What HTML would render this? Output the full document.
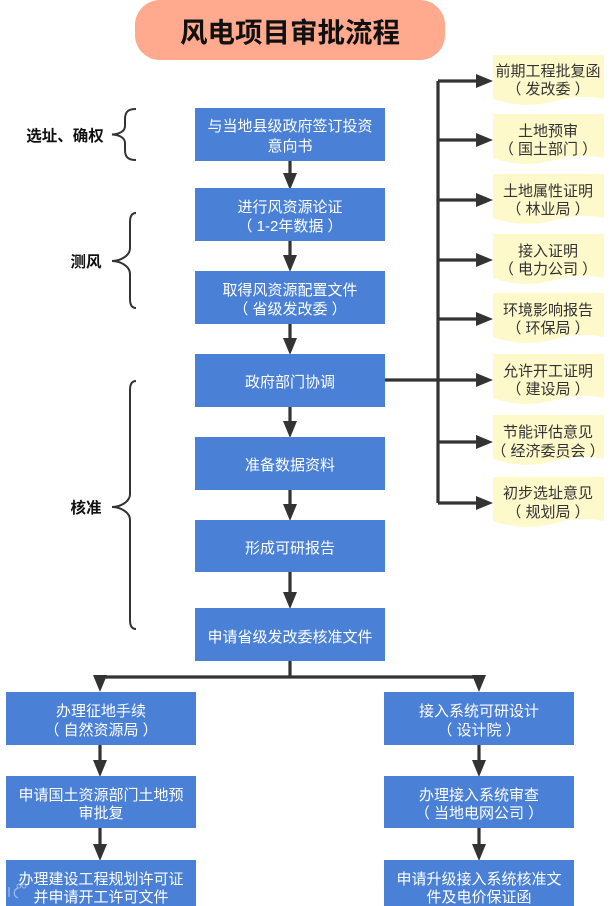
<!DOCTYPE html>
<html lang="zh">
<head>
<meta charset="utf-8">
<title>风电项目审批流程</title>
<style>
html,body{margin:0;padding:0;background:#fff;width:611px;height:906px;overflow:hidden}
svg{display:block;filter:blur(.3px)}
text{font-family:"Liberation Sans","Noto Sans CJK SC",sans-serif;text-anchor:middle}
.b{fill:#4A80D6}
.n{fill:#FDF9CB}
.w text,.w{fill:#fff;font-size:15px}
.k text,.k{fill:#333;font-size:15px}
.s{fill:#111;font-size:15.5px;font-weight:700}
.l{stroke:#333;stroke-width:3.2;fill:none}
.a{fill:#333}
.br{stroke:#333;stroke-width:2;fill:none}
</style>
</head>
<body>
<svg width="611" height="906" viewBox="0 0 611 906" xmlns="http://www.w3.org/2000/svg">
<defs>
<path id="note" d="M0 0H111V44C92 40 76 42 58 47C38 52 18 50 0 44Z"/>
<path id="ad" d="M-7 -17H7L0 0Z"/>
<path id="ar" d="M-17 -7V7L0 0Z"/>
</defs>

<!-- title -->
<rect x="135" y="0" width="310" height="60" rx="25" fill="#FFA98F"/>
<text x="290" y="42" font-size="27.5" font-weight="700" fill="#111">风电项目审批流程</text>

<!-- main connectors -->
<path class="l" d="M290 160V173M290 241V255M290 323V338M290 406V421M290 489V504M290 572V592M290 661V677M100 677H479M100 677V676M479 677V676M100 745V760M100 828V844M479 745V760M479 828V844"/>
<path class="l" d="M385 380H476M438 503V81M438 81H476M438 140H476M438 200H476M438 260H476M438 319H476M438 442H476M438 503H476"/>
<g class="a">
<use href="#ad" x="290" y="190"/><use href="#ad" x="290" y="272"/><use href="#ad" x="290" y="355"/>
<use href="#ad" x="290" y="438"/><use href="#ad" x="290" y="521"/><use href="#ad" x="290" y="609"/>
<use href="#ad" x="100" y="692"/><use href="#ad" x="479" y="692"/>
<use href="#ad" x="100" y="777"/><use href="#ad" x="100" y="861"/>
<use href="#ad" x="479" y="777"/><use href="#ad" x="479" y="861"/>
<use href="#ar" x="493" y="81"/><use href="#ar" x="493" y="140"/><use href="#ar" x="493" y="200"/><use href="#ar" x="493" y="260"/>
<use href="#ar" x="493" y="319"/><use href="#ar" x="493" y="380"/><use href="#ar" x="493" y="442"/><use href="#ar" x="493" y="503"/>
</g>

<!-- main boxes -->
<g class="b">
<rect x="195" y="108" width="190" height="53"/>
<rect x="195" y="188" width="190" height="53"/>
<rect x="195" y="271" width="190" height="53"/>
<rect x="195" y="354" width="190" height="53"/>
<rect x="195" y="437" width="190" height="53"/>
<rect x="195" y="520" width="190" height="52"/>
<rect x="195" y="608" width="190" height="53"/>
<rect x="6" y="692" width="190" height="53"/>
<rect x="6" y="776" width="190" height="52"/>
<rect x="6" y="860" width="190" height="46"/>
<rect x="384" y="692" width="190" height="53"/>
<rect x="384" y="776" width="190" height="52"/>
<rect x="384" y="860" width="190" height="46"/>
</g>
<g class="w">
<text x="290" y="131">与当地县级政府签订投资</text><text x="290" y="151">意向书</text>
<text x="290" y="212">进行风资源论证</text><text x="290" y="231">（ 1-2年数据 ）</text>
<text x="290" y="295">取得风资源配置文件</text><text x="290" y="314">（ 省级发改委 ）</text>
<text x="290" y="387">政府部门协调</text>
<text x="290" y="470">准备数据资料</text>
<text x="290" y="553">形成可研报告</text>
<text x="290" y="642">申请省级发改委核准文件</text>
<text x="101" y="716">办理征地手续</text><text x="101" y="735">（ 自然资源局 ）</text>
<text x="101" y="800">申请国土资源部门土地预</text><text x="101" y="818">审批复</text>
<text x="101" y="884">办理建设工程规划许可证</text><text x="101" y="902">并申请开工许可文件</text>
<text x="479" y="716">接入系统可研设计</text><text x="479" y="735">（ 设计院 ）</text>
<text x="479" y="800">办理接入系统审查</text><text x="479" y="818">（ 当地电网公司 ）</text>
<text x="479" y="884">申请升级接入系统核准文</text><text x="479" y="902">件及电价保证函</text>
</g>

<!-- notes -->
<g class="n">
<use href="#note" x="493" y="55"/><use href="#note" x="493" y="114"/><use href="#note" x="493" y="174"/><use href="#note" x="493" y="234"/>
<use href="#note" x="493" y="293"/><use href="#note" x="493" y="354"/><use href="#note" x="493" y="415"/><use href="#note" x="493" y="477"/>
</g>
<g class="k">
<text x="548" y="76">前期工程批复函</text><text x="548" y="94">（ 发改委 ）</text>
<text x="548" y="136">土地预审</text><text x="548" y="154">（ 国土部门 ）</text>
<text x="548" y="196">土地属性证明</text><text x="548" y="214">（ 林业局 ）</text>
<text x="548" y="256">接入证明</text><text x="548" y="274">（ 电力公司 ）</text>
<text x="548" y="315">环境影响报告</text><text x="548" y="333">（ 环保局 ）</text>
<text x="548" y="376">允许开工证明</text><text x="548" y="394">（ 建设局 ）</text>
<text x="548" y="437">节能评估意见</text><text x="548" y="456">（ 经济委员会 ）</text>
<text x="548" y="498">初步选址意见</text><text x="548" y="517">（ 规划局 ）</text>
</g>

<!-- side labels and braces -->
<text class="s" x="65" y="141">选址、确权</text>
<text class="s" x="86" y="267">测风</text>
<text class="s" x="86" y="513">核准</text>
<path class="br" d="M136 109C128 109 125 112 125 119V126C125 131 120 134 112 134.500C120 135 125 138 125 143V150C125 157 128 160 136 160"/>
<path class="br" d="M136 213C132 213 130 216 130 222V248C130 256 120 261 112 261C120 261 130 266 130 274V299C130 305 132 308 136 308"/>
<path class="br" d="M136 381C132 381 130 384 130 390V494C130 502 120 507 112 507C120 507 130 512 130 520V620C130 626 132 629 136 629"/>

<!-- watermark -->
<g opacity=".55">
<path d="M9 887V897M18 888C13 890 13 896 18 898" stroke="#dfe6f5" stroke-width="1.3" fill="none"/>
<circle cx="19" cy="886" r="2" fill="none" stroke="#dfe6f5"/><circle cx="24" cy="886" r="2" fill="none" stroke="#dfe6f5"/>
</g>
</svg>
</body>
</html>
